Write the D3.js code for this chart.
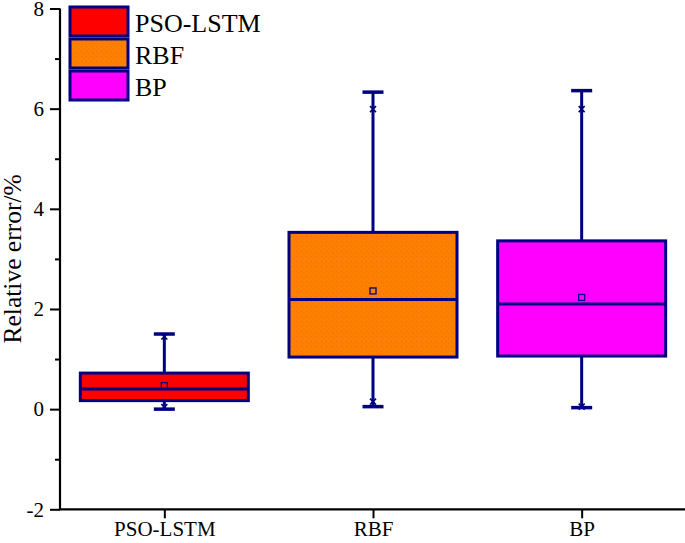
<!DOCTYPE html>
<html>
<head>
<meta charset="utf-8">
<script src="https://cdn.jsdelivr.net/npm/d3@7"></script>
<style>
  html, body { margin: 0; padding: 0; background: #fff; }
  svg { display: block; }
  text { font-family: "Liberation Serif", "Times New Roman", serif; fill: #000; }
</style>
</head>
<body>
<svg id="chart" width="685" height="543"></svg>
<script>
const categories = ["PSO-LSTM", "RBF", "BP"];
const q1 = [0.17, 1.04, 1.06];
const median = [0.40, 2.19, 2.10];
const q3 = [0.72, 3.53, 3.36];
const mean = [0.47, 2.36, 2.23];
const whiskerLow = [0.00, 0.05, 0.03];
const whiskerHigh = [1.50, 6.33, 6.36];
const minPts = [0.04, 0.15, 0.05];
const maxPts = [1.45, 5.99, 5.99];
const colors = ["#FF0000", "#FF8000", "#FF00FF"];
const yTicks = [-2, 0, 2, 4, 6, 8];
const yMinorTicks = [-1, 1, 3, 5, 7];

const svg = d3.select("#chart");
const navy = "#000080";

const defs = svg.append("defs");
const pat = defs.append("pattern").attr("id", "orangeTex").attr("patternUnits", "userSpaceOnUse")
  .attr("width", 5).attr("height", 5);
pat.append("rect").attr("width", 5).attr("height", 5).attr("fill", "#FF8000");
pat.append("rect").attr("x", 1).attr("y", 1).attr("width", 1).attr("height", 1).attr("fill", "#E0701A");
pat.append("rect").attr("x", 3).attr("y", 3).attr("width", 1).attr("height", 1).attr("fill", "#E87818");
const fills = [colors[0], "url(#orangeTex)", colors[2]];

const x = d3.scalePoint().domain(categories).range([60, 686]).padding(0.5);
const y = d3.scaleLinear().domain([-2, 8]).range([509.3, 8.5]);

const boxW = 168, capW = 21;

const yAxis = svg.append("g").attr("transform", "translate(60,0)")
  .call(d3.axisLeft(y).tickValues(yTicks).tickSize(10).tickPadding(6).tickFormat(d => String(d)));
yAxis.select(".domain").attr("stroke", "#000").attr("stroke-width", 2.2).attr("d", `M0,${y(8)}V${y(-2)}`);
yAxis.selectAll(".tick line").attr("stroke", "#000").attr("stroke-width", 2);
yAxis.selectAll(".tick text").attr("font-size", 21).attr("font-family", "Liberation Serif");
const yMinor = svg.append("g").attr("transform", "translate(60,0)")
  .call(d3.axisLeft(y).tickValues(yMinorTicks).tickSize(5).tickFormat(""));
yMinor.select(".domain").remove();
yMinor.selectAll(".tick line").attr("stroke", "#000").attr("stroke-width", 2);

const xAxis = svg.append("g").attr("transform", `translate(0,${y(-2)})`)
  .call(d3.axisBottom(x).tickSize(9).tickPadding(3));
xAxis.select(".domain").attr("stroke", "#000").attr("stroke-width", 2.2).attr("d", "M59,0H685");
xAxis.selectAll(".tick line").attr("stroke", "#000").attr("stroke-width", 2);
xAxis.selectAll(".tick text").attr("font-size", 21).attr("font-family", "Liberation Serif");

svg.append("text")
  .attr("transform", `translate(21,${(y(8) + y(-2)) / 2}) rotate(-90)`)
  .attr("text-anchor", "middle")
  .attr("font-size", 25.5)
  .text("Relative error/%");

const g = svg.append("g");
categories.forEach((c, i) => {
  const cx = x(c);
  g.append("line").attr("x1", cx).attr("x2", cx).attr("y1", y(q3[i])).attr("y2", y(whiskerHigh[i]))
    .attr("stroke", navy).attr("stroke-width", 3);
  g.append("line").attr("x1", cx).attr("x2", cx).attr("y1", y(q1[i])).attr("y2", y(whiskerLow[i]))
    .attr("stroke", navy).attr("stroke-width", 3);
  g.append("line").attr("x1", cx - capW / 2).attr("x2", cx + capW / 2).attr("y1", y(whiskerHigh[i])).attr("y2", y(whiskerHigh[i]))
    .attr("stroke", navy).attr("stroke-width", 3.5);
  g.append("line").attr("x1", cx - capW / 2).attr("x2", cx + capW / 2).attr("y1", y(whiskerLow[i])).attr("y2", y(whiskerLow[i]))
    .attr("stroke", navy).attr("stroke-width", 3.5);
  g.append("rect").attr("x", cx - boxW / 2).attr("y", y(q3[i])).attr("width", boxW)
    .attr("height", y(q1[i]) - y(q3[i])).attr("fill", fills[i]).attr("stroke", navy).attr("stroke-width", 3);
  g.append("line").attr("x1", cx - boxW / 2).attr("x2", cx + boxW / 2).attr("y1", y(median[i])).attr("y2", y(median[i]))
    .attr("stroke", navy).attr("stroke-width", 3);
  g.append("rect").attr("x", cx - 3).attr("y", y(mean[i]) - 3).attr("width", 6).attr("height", 6)
    .attr("fill", "none").attr("stroke", navy).attr("stroke-width", 1.3);
  [minPts[i], maxPts[i]].forEach(v => {
    const py = y(v);
    g.append("path").attr("d", `M${cx - 3},${py - 3}L${cx + 3},${py + 3}M${cx - 3},${py + 3}L${cx + 3},${py - 3}`)
      .attr("stroke", navy).attr("stroke-width", 1.6).attr("fill", "none");
  });
});

const legend = svg.append("g");
categories.forEach((c, i) => {
  const top = 7 + i * 32;
  legend.append("rect").attr("x", 70).attr("y", top).attr("width", 58).attr("height", 29)
    .attr("fill", fills[i]).attr("stroke", navy).attr("stroke-width", 3);
  legend.append("text").attr("x", 135).attr("y", top + 25).attr("font-size", 26).text(c);
});
</script>
</body>
</html>
